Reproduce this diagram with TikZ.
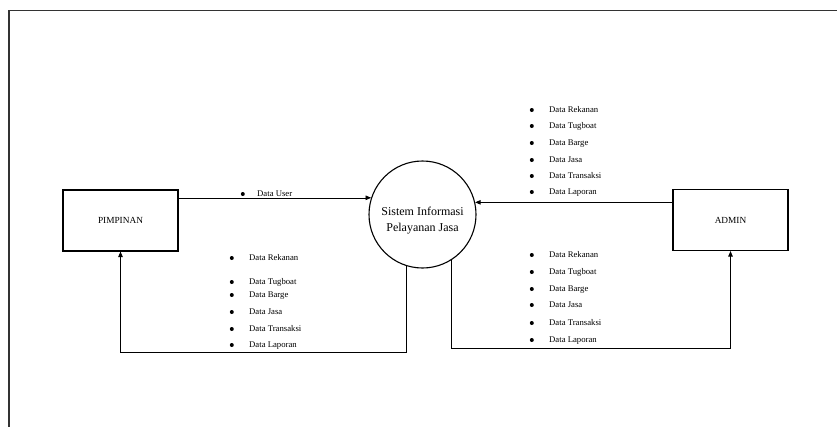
\documentclass[tikz,border=0pt]{standalone}
\usepackage{fontspec}
\setmainfont{Liberation Serif}
\usetikzlibrary{arrows.meta,positioning}

\begin{document}
\begin{tikzpicture}[
    x=1pt, y=-1pt,
    entity/.style={draw=black, line width=1.1pt, minimum width=115pt, minimum height=61pt, font=\fontsize{9.3}{11}\selectfont},
    process/.style={draw=black, circle, line width=1.1pt, minimum size=107pt, inner sep=0pt},
    processtext/.style={align=center, font=\fontsize{12}{16}\selectfont},
    bulletdot/.style={circle, fill=black, inner sep=0pt, minimum size=4pt},
    item/.style={anchor=west, inner sep=0pt, text height=6pt, text depth=2pt, font=\fontsize{8.7}{10}\selectfont, label={[bulletdot, label distance=#1]left:{}}},
    item/.default=15pt,
    connector/.style={-{Triangle[length=5.5pt,width=4.5pt]}, line width=0.9pt, black},
    frame/.style={draw=black!80, line width=1.4pt}
  ]
    \useasboundingbox (0,0) rectangle (837,426);

    % Bingkai
    \draw[frame] (845,10.5) -| (9,435);

    % Entitas luar
    \node[entity] (pimpinan) at (120.5,220.5) {PIMPINAN};
    \node[entity] (admin) at (730.5,220) {ADMIN};

    % Proses
    \node[process, label={[processtext, yshift=-6.5pt]center:{Sistem Informasi\\Pelayanan Jasa}}] (sistem) at (422.5,214.5) {};

    % Aliran data
    \node[item=12pt] (userData) at (257,194) {Data User};
    \foreach \y/\txt [count=\i] in {110/Data Rekanan, 126/Data Tugboat, 143/Data Barge, 160/Data Jasa, 176/Data Transaksi, 192/Data Laporan}
      \node[item] (adminIn\i) at (549,\y) {\txt};
    \foreach \y/\txt [count=\i] in {258/Data Rekanan, 282/Data Tugboat, 295/Data Barge, 312/Data Jasa, 329/Data Transaksi, 345/Data Laporan}
      \node[item] (pimpinanOut\i) at (249,\y) {\txt};
    \foreach \y/\txt [count=\i] in {255/Data Rekanan, 272/Data Tugboat, 289/Data Barge, 305/Data Jasa, 323/Data Transaksi, 340/Data Laporan}
      \node[item] (adminOut\i) at (549,\y) {\txt};

    % Konektor
    \draw[connector, line width=0.6pt] (pimpinan.east |- sistem.162) -- (sistem.162);
    \draw[connector] (admin.west |- sistem.13.5) -- (sistem.13.5);
    \draw[connector] (sistem.253.2) -- ++(0,86.3) -| (pimpinan.south);
    \draw[connector] (sistem.303.5) -- ++(0,88.9) -| (admin.south);
  \end{tikzpicture}
\end{document}
